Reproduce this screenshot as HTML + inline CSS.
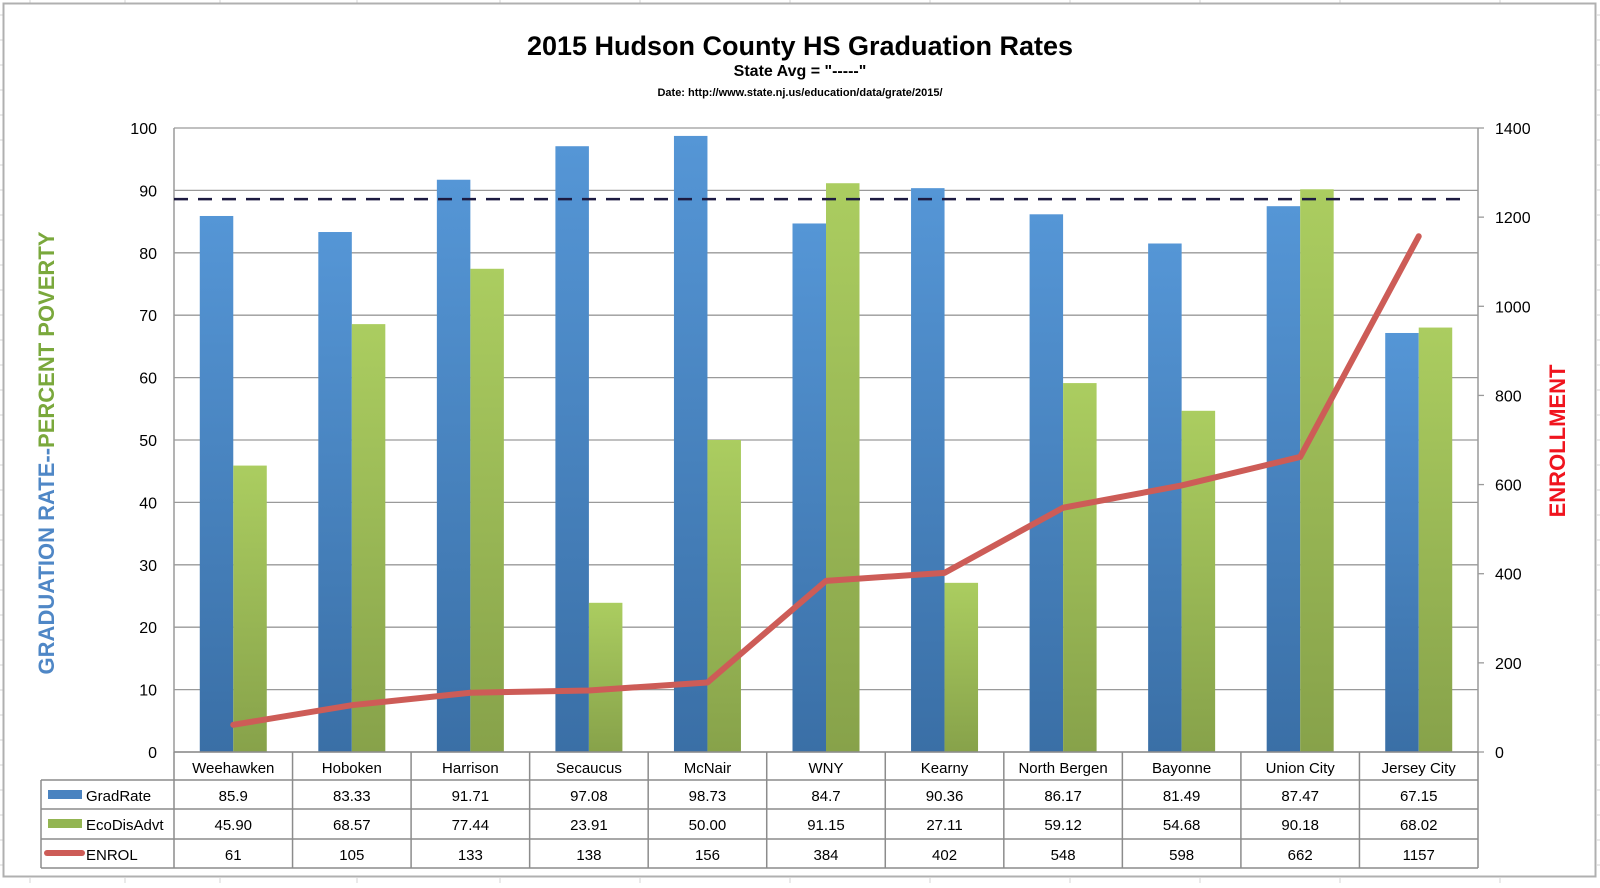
<!DOCTYPE html>
<html><head><meta charset="utf-8">
<style>
html,body{margin:0;padding:0;background:#fff;}
body{width:1600px;height:883px;overflow:hidden;font-family:"Liberation Sans",sans-serif;}
svg text{font-family:"Liberation Sans",sans-serif;}
</style></head>
<body>
<svg id="chart" width="1600" height="883" xmlns="http://www.w3.org/2000/svg">
  <g id="sheet-grid" stroke="#d4d4d4" stroke-width="1"></g>
  <rect x="3.5" y="3.5" width="1592" height="873" fill="#fff" stroke="#b0b0b0" stroke-width="2"/>
  <text x="800" y="55" text-anchor="middle" font-size="27" font-weight="bold" fill="#000">2015 Hudson County HS Graduation Rates</text>
  <text x="800" y="76" text-anchor="middle" font-size="16" font-weight="bold" fill="#000">State Avg = "-----"</text>
  <text x="800" y="96" text-anchor="middle" font-size="11" font-weight="bold" fill="#000">Date: http://www.state.nj.us/education/data/grate/2015/</text>
  <defs>
    <linearGradient id="gBlue" x1="0" y1="0" x2="0" y2="1"><stop offset="0" stop-color="#5596d6"/><stop offset="1" stop-color="#3a6fa6"/></linearGradient>
    <linearGradient id="gGreen" x1="0" y1="0" x2="0" y2="1"><stop offset="0" stop-color="#abcd60"/><stop offset="1" stop-color="#87a24a"/></linearGradient>
  </defs>
  <g id="plot"></g>
  <text transform="translate(54,453) rotate(-90)" text-anchor="middle" font-size="22" font-weight="bold"><tspan fill="#4f87c6">GRADUATION RATE--</tspan><tspan fill="#7aa83c">PERCENT POVERTY</tspan></text>
  <text transform="translate(1565,441) rotate(-90)" text-anchor="middle" font-size="22" font-weight="bold" fill="#f0141e">ENROLLMENT</text>
</svg>
<script>
const categories = ["Weehawken","Hoboken","Harrison","Secaucus","McNair","WNY","Kearny","North Bergen","Bayonne","Union City","Jersey City"];
const gradRate = [85.9,83.33,91.71,97.08,98.73,84.7,90.36,86.17,81.49,87.47,67.15];
const gradLabels = ["85.9","83.33","91.71","97.08","98.73","84.7","90.36","86.17","81.49","87.47","67.15"];
const ecoDis = [45.90,68.57,77.44,23.91,50.00,91.15,27.11,59.12,54.68,90.18,68.02];
const enrol = [61,105,133,138,156,384,402,548,598,662,1157];
const leftTicks = [0,10,20,30,40,50,60,70,80,90,100];
const rightTicks = [0,200,400,600,800,1000,1200,1400];
const stateAvg = 88.6;

const NS="http://www.w3.org/2000/svg";
const X0=174,X1=1478,Y0=752,Y1=128;
const bandW=(X1-X0)/categories.length;
const yL=v=>Y0-(v/100)*(Y0-Y1);
const yR=v=>Y0-(v/1400)*(Y0-Y1);
const xC=i=>X0+bandW*(i+0.5);
function mk(tag,attrs,parent){const e=document.createElementNS(NS,tag);for(const k in attrs)e.setAttribute(k,attrs[k]);parent.appendChild(e);return e;}
const plot=document.getElementById('plot');
const sg=document.getElementById('sheet-grid');
// spreadsheet grid outside
[30,125,220,357,500,640,790,930,1070,1200,1340,1500].forEach(x=>{mk('line',{x1:x,y1:0,x2:x,y2:3},sg);mk('line',{x1:x,y1:878,x2:x,y2:883},sg);});
for(let y=15;y<883;y+=25){mk('line',{x1:0,y1:y,x2:3,y2:y},sg);mk('line',{x1:1597,y1:y,x2:1600,y2:y},sg);}

// gridlines and left ticks
leftTicks.forEach(t=>{
  const y=yL(t);
  const g=mk('line',{x1:X0,y1:y,x2:X1,y2:y,stroke:'#9a9a9a','stroke-width':1.3},plot);
  
  
  const tx=mk('text',{x:157,y:y+6,'text-anchor':'end','font-size':16,fill:'#000'},plot);
  tx.textContent=t;
  
  
});
mk('line',{x1:X0,y1:Y1,x2:X0,y2:Y0,stroke:'#9a9a9a','stroke-width':1.5},plot);
mk('line',{x1:X1,y1:Y1,x2:X1,y2:Y0,stroke:'#9a9a9a','stroke-width':1.5},plot);
rightTicks.forEach(t=>{
  const y=yR(t);
  mk('line',{x1:X1,y1:y,x2:X1+6,y2:y,stroke:'#9a9a9a','stroke-width':1.3},plot);
  const tx=mk('text',{x:1495,y:y+6,'font-size':16,fill:'#000'},plot);
  tx.textContent=t;
  
  
});
// bars
const bw=33.5;
categories.forEach((c,i)=>{
  const cx=xC(i);
  const b=mk('rect',{x:cx-bw,y:yL(gradRate[i]),width:bw,height:Y0-yL(gradRate[i]),fill:'url(#gBlue)'},plot);
  
  
  const g=mk('rect',{x:cx,y:yL(ecoDis[i]),width:bw,height:Y0-yL(ecoDis[i]),fill:'url(#gGreen)'},plot);
  
  
});
// state avg dashed
const d=mk('line',{x1:X0,y1:yL(stateAvg),x2:X1-10,y2:yL(stateAvg),stroke:'#1c1a40','stroke-width':2.5,'stroke-dasharray':'14,10'},plot);


// enrol line
const pts=enrol.map((v,i)=>xC(i)+','+yR(v)).join(' ');
const pl=mk('polyline',{points:pts,fill:'none',stroke:'#cd5c57','stroke-width':6,'stroke-linecap':'round','stroke-linejoin':'round'},plot);


// table
const rows=[780,809,839,868];
const tbl=mk('g',{},plot);


const lc='#8c8c8c';
mk('line',{x1:X0,y1:Y0,x2:X1,y2:Y0,stroke:lc,'stroke-width':1.5},tbl);
rows.forEach(y=>mk('line',{x1:41,y1:y,x2:X1,y2:y,stroke:lc,'stroke-width':1.5},tbl));
mk('line',{x1:41,y1:780,x2:41,y2:868,stroke:lc,'stroke-width':1.5},tbl);
for(let i=0;i<=categories.length;i++){const x=X0+bandW*i;mk('line',{x1:x,y1:Y0,x2:x,y2:868,stroke:lc,'stroke-width':1.5},tbl);}
const seriesText=[gradLabels,ecoDis.map(v=>v.toFixed(2)),enrol.map(String)];
categories.forEach((c,i)=>{
  const t=mk('text',{x:xC(i),y:773,'text-anchor':'middle','font-size':15,fill:'#000'},tbl);
  t.textContent=c;
  
  
  seriesText.forEach((arr,r)=>{
    const v=mk('text',{x:xC(i),y:rows[r]+21,'text-anchor':'middle','font-size':15,fill:'#000'},tbl);
    v.textContent=arr[i];
    
    
  });
});
const leg=[['GradRate','#4a83c0','rect'],['EcoDisAdvt','#93b552','rect'],['ENROL','#cd5c57','line']];
leg.forEach((l,r)=>{
  const y=rows[r];
  if(l[2]==='rect'){mk('rect',{x:48,y:y+10,width:34,height:9,fill:l[1]},tbl);}
  else{mk('line',{x1:47,y1:y+14,x2:82,y2:y+14,stroke:l[1],'stroke-width':6,'stroke-linecap':'round'},tbl);}
  const t=mk('text',{x:86,y:y+21,'font-size':15,fill:'#000'},tbl);
  t.textContent=l[0];
  
  
});
</script>
</body></html>
